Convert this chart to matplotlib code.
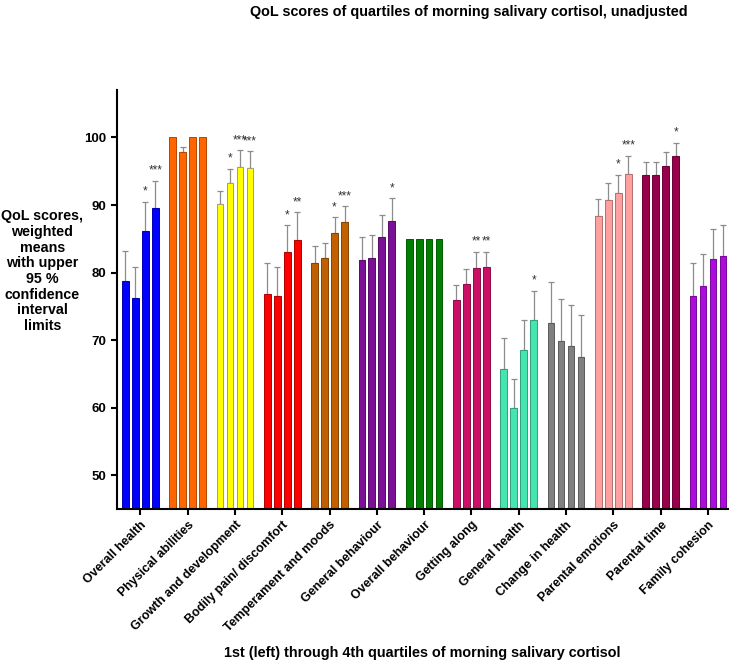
import numpy as np
import matplotlib
matplotlib.use("Agg")
import matplotlib.pyplot as plt
from matplotlib.colors import to_rgb

plt.rcParams['font.family'] = ['Liberation Sans', 'DejaVu Sans']
plt.rcParams['font.weight'] = 'bold'

categories = ["Overall health", "Physical abilities", "Growth and development",
              "Bodily pain/ discomfort", "Temperament and moods", "General behaviour",
              "Overall behaviour", "Getting along", "General health", "Change in health",
              "Parental emotions", "Parental time", "Family cohesion"]

colors = ["#0000FF", "#FF6600", "#FFFF00", "#FF0000", "#C06000", "#7B0F95", "#008000",
          "#CC0F66", "#44E5B0", "#808080", "#FFA0A0", "#99004C", "#AC0CDC"]

# weighted means per quartile (1st .. 4th)
q1 = [78.7, 100.0, 90.1, 76.9, 81.4, 81.9, 85.0, 75.9, 65.7, 72.6, 88.4, 94.5, 76.6]
q2 = [76.2, 97.8, 93.2, 76.6, 82.1, 82.1, 85.0, 78.3, 60.0, 69.9, 90.8, 94.5, 78.0]
q3 = [86.1, 100.0, 95.7, 83.0, 85.8, 85.3, 85.0, 80.7, 68.6, 69.1, 91.8, 95.8, 82.0]
q4 = [89.6, 100.0, 95.5, 84.8, 87.5, 87.7, 85.0, 80.9, 73.0, 67.5, 94.6, 97.2, 82.4]

# upper 95 % confidence limits (nan = none shown)
u1 = [83.2, np.nan, 92.1, 81.4, 83.9, 85.3, np.nan, 78.1, 70.3, 78.6, 90.9, 96.4, 81.4]
u2 = [80.8, 98.6, 95.4, 80.9, 84.4, 85.5, np.nan, 80.6, 64.3, 76.1, 93.3, 96.4, 82.7]
u3 = [90.5, np.nan, 98.1, 87.0, 88.2, 88.6, np.nan, 83.1, 73.0, 75.2, 94.5, 97.9, 86.5]
u4 = [93.6, np.nan, 98.0, 88.9, 89.8, 91.0, np.nan, 83.1, 77.3, 73.7, 97.3, 99.2, 87.0]

# significance marks
s1 = [""] * 13
s2 = ["", "", "*", "", "", "", "", "", "", "", "", "", ""]
s3 = ["*", "", "***", "*", "*", "", "", "**", "", "", "*", "", ""]
s4 = ["***", "", "***", "**", "***", "*", "", "**", "*", "", "***", "*", ""]

means = [q1, q2, q3, q4]
uppers = [u1, u2, u3, u4]
stars = [s1, s2, s3, s4]


def darker(c, f=0.7):
    r, g, b = to_rgb(c)
    return (r * f, g * f, b * f)


fig = plt.figure(figsize=(7.32, 6.63), dpi=100)
ax = fig.add_axes([0.160, 0.232, 0.835, 0.632])

x = np.arange(len(categories))
step = 0.211
width = 0.142
edges = [darker(c) if c != "#FFFF00" else "#A0A080" for c in colors]

for k in range(4):
    xs = x + (k - 1.5) * step
    vals = np.array(means[k])
    up = np.array(uppers[k])
    ax.bar(xs, vals, width=width, color=colors, edgecolor=edges, linewidth=0.7, zorder=2)
    m = ~np.isnan(up)
    ax.errorbar(xs[m], vals[m], yerr=[np.zeros(m.sum()), up[m] - vals[m]],
                fmt='none', ecolor='#8c8c8c', elinewidth=0.9, capsize=2.2, capthick=0.9, zorder=1)
    for i in range(len(categories)):
        if stars[k][i]:
            top = up[i] if m[i] else vals[i]
            ax.text(xs[i], top + 0.6, stars[k][i], ha='center', va='bottom',
                    fontsize=8.5, fontweight='normal', color='#333333')

ax.set_ylim(45, 107)
ax.set_xlim(-0.49, 12.43)
ax.set_yticks([50, 60, 70, 80, 90, 100])
ax.set_xticks(x)
ax.set_xticklabels(categories, rotation=45, ha='right', rotation_mode='anchor', fontsize=9)
ax.tick_params(axis='y', labelsize=9.5, width=1.5, length=4)
ax.tick_params(axis='x', width=1.5, length=4, pad=3)
for sp in ['top', 'right']:
    ax.spines[sp].set_visible(False)
for sp in ['left', 'bottom']:
    ax.spines[sp].set_linewidth(1.5)

fig.text(0.058, 0.591, "QoL scores,\nweighted\nmeans\nwith upper\n95 %\nconfidence\ninterval\nlimits",
         ha='center', va='center', multialignment='center', fontsize=10.3, linespacing=1.15)
fig.text(0.641, 0.982, "QoL scores of quartiles of morning salivary cortisol, unadjusted",
         ha='center', va='center', fontsize=10.4)
fig.text(0.577, 0.015, "1st (left) through 4th quartiles of morning salivary cortisol",
         ha='center', va='center', fontsize=10.4)

fig.savefig("out.png", dpi=100)
